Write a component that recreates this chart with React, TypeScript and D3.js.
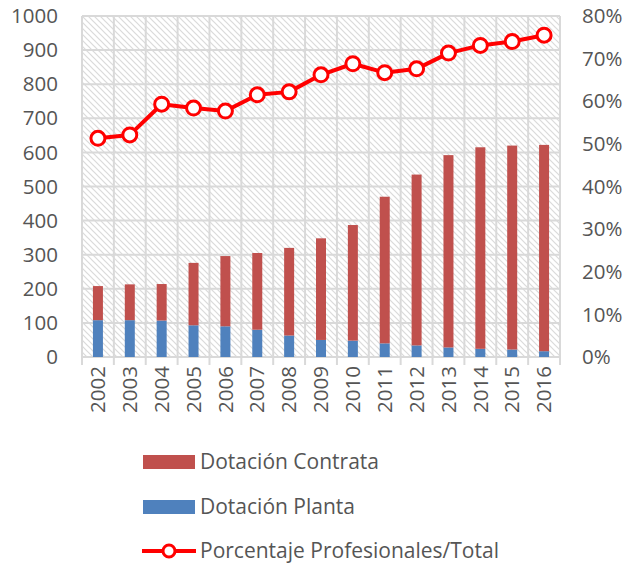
import * as d3 from 'd3';
import React from 'react';

const years = ['2002', '2003', '2004', '2005', '2006', '2007', '2008', '2009', '2010', '2011', '2012', '2013', '2014', '2015', '2016'];
const planta = [108, 108, 107, 93, 90, 80, 63, 50, 48, 40, 34, 28, 24, 22, 17];
const total = [208, 213, 214, 276, 296, 305, 320, 348, 387, 470, 535, 592, 615, 620, 622];
const contrata = total.map((t, i) => t - planta[i]);
const porcentaje = [0.513, 0.521, 0.593, 0.584, 0.577, 0.615, 0.622, 0.662, 0.688, 0.667, 0.676, 0.713, 0.731, 0.74, 0.755];
const leftTicks = [0, 100, 200, 300, 400, 500, 600, 700, 800, 900, 1000];
const rightTicks = [0, 0.1, 0.2, 0.3, 0.4, 0.5, 0.6, 0.7, 0.8];

const W = 627, H = 563;
const margin = { top: 16, right: 67, bottom: 206, left: 82 };
const width = W - margin.left - margin.right;
const height = H - margin.top - margin.bottom;
const font = '"Open Sans", Lato, sans-serif';
const textColor = '#555555';
const gridColor = '#d9d9d9';

const App = () => {
  const x = d3.scaleBand().domain(years).range([0, width]);
  const y = d3.scaleLinear().domain([0, 1000]).range([height, 0]);
  const y2 = d3.scaleLinear().domain([0, 0.8]).range([height, 0]);
  const barW = 10;

  const line = d3.line<number>()
    .x((d, i) => x(years[i])! + x.bandwidth() / 2)
    .y(d => y2(d));

  return (
    <svg width={W} height={H} style={{ position: 'absolute', left: 0, top: 0 }}>
      <defs>
        <pattern id="hatch" width="6" height="6" patternUnits="userSpaceOnUse">
          <rect width="6" height="6" fill="#fff" />
          <path d="M-1,-1 L7,7 M-1,5 L1,7 M5,-1 L7,1" stroke="#dadada" strokeWidth="1.2" />
        </pattern>
      </defs>
      <rect width={W} height={H} fill="#fff" />
      <g transform={`translate(${margin.left},${margin.top})`}>
        <rect width={width} height={height} fill="url(#hatch)" />
        {leftTicks.map(t => (
          <line key={'h' + t} x1={0} x2={width} y1={y(t)} y2={y(t)} stroke={gridColor} strokeWidth={2} />
        ))}
        {years.map((yr, i) => (
          <line key={'v' + yr} x1={x(yr)!} x2={x(yr)!} y1={0} y2={height + 8} stroke={gridColor} strokeWidth={2} />
        ))}
        <line x1={width} x2={width} y1={0} y2={height + 8} stroke={gridColor} strokeWidth={2} />

        {years.map((yr, i) => (
          <g key={'b' + yr}>
            <rect x={x(yr)! + x.bandwidth() / 2 - barW / 2} width={barW}
              y={y(planta[i])} height={y(0) - y(planta[i])} fill="#4f81bd" />
            <rect x={x(yr)! + x.bandwidth() / 2 - barW / 2} width={barW}
              y={y(planta[i] + contrata[i])} height={y(planta[i]) - y(planta[i] + contrata[i])} fill="#c0504d" />
          </g>
        ))}

        <path d={line(porcentaje)!} fill="none" stroke="#ff0000" strokeWidth={4} strokeLinejoin="round" />
        {porcentaje.map((p, i) => (
          <circle key={'c' + i} cx={x(years[i])! + x.bandwidth() / 2} cy={y2(p)} r={7}
            fill="#fff" stroke="#ff0000" strokeWidth={3} />
        ))}

        {leftTicks.map(t => (
          <text key={'lt' + t} x={-24} y={y(t)} dy="0.35em" textAnchor="end"
            fontFamily={font} fontSize={20.5} fill={textColor}>{t}</text>
        ))}
        {rightTicks.map(t => (
          <text key={'rt' + t} x={width + 22} y={y2(t)} dy="0.35em" textAnchor="start"
            fontFamily={font} fontSize={20.5} fill={textColor}>{d3.format('.0%')(t)}</text>
        ))}
        {years.map(yr => (
          <text key={'xt' + yr} transform={`translate(${x(yr)! + x.bandwidth() / 2},${height + 9}) rotate(-90)`}
            dy="0.35em" textAnchor="end" fontFamily={font} fontSize={20.5} fill={textColor}>{yr}</text>
        ))}
      </g>

      <g fontFamily={font} fontSize={21} fill={textColor}>
        <rect x={143} y={455} width={52} height={14} fill="#c0504d" />
        <text x={200} y={462} dy="0.35em">Dotación Contrata</text>
        <rect x={143} y={500} width={52} height={14} fill="#4f81bd" />
        <text x={200} y={507} dy="0.35em">Dotación Planta</text>
        <line x1={142} x2={196} y1={551} y2={551} stroke="#ff0000" strokeWidth={4} />
        <circle cx={169} cy={551} r={6} fill="#fff" stroke="#ff0000" strokeWidth={3} />
        <text x={200} y={551} dy="0.35em">Porcentaje Profesionales/Total</text>
      </g>
    </svg>
  );
};

export default App;
